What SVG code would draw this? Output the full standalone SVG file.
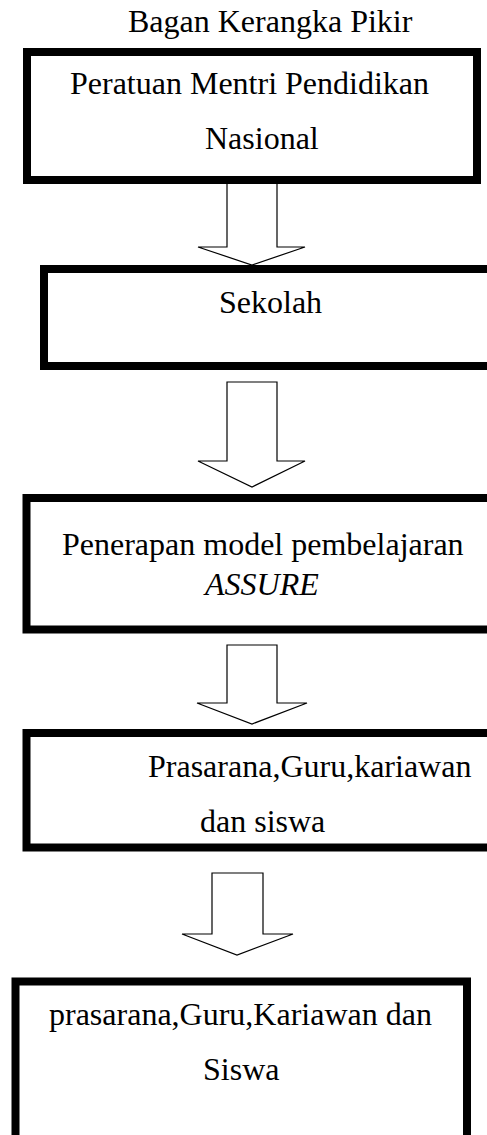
<svg xmlns="http://www.w3.org/2000/svg" width="487" height="1135" viewBox="0 0 487 1135">
<style>
.box{fill:#fff;stroke:#000;stroke-width:8}
.arr{fill:#fff;stroke:#000;stroke-width:1.2;stroke-linejoin:miter}
text{font-family:"Liberation Serif","Times New Roman",serif;font-size:32px;fill:#000}
.it{font-style:italic}
</style>
<rect width="487" height="1135" fill="#fff"/>
<text id="title" x="128" y="32">Bagan Kerangka Pikir</text>
<g id="connectors">
<path class="arr" d="M227,180 V247 H198 L252,265 L305,247 H277 V180 Z"/>
<path class="arr" d="M227,382 V461 H198 L252,487 L305,461 H277 V382 Z"/>
<path class="arr" d="M227,645 V703 H197 L252,724 L307,703 H277 V645 Z"/>
<path class="arr" d="M212,873 V934 H182 L237,955 L293,934 H263 V873 Z"/>
</g>
<g id="node1">
<rect class="box" x="27" y="52" width="450" height="128"/>
<text x="70" y="94">Peratuan Mentri Pendidikan</text>
<text x="205" y="149">Nasional</text>
</g>
<g id="node2">
<rect class="box" x="44" y="269" width="460" height="97"/>
<text x="219" y="313">Sekolah</text>
</g>
<g id="node3">
<rect class="box" x="26.5" y="498" width="470" height="131.5"/>
<text x="62" y="555">Penerapan model pembelajaran</text>
<text class="it" x="205" y="595">ASSURE</text>
</g>
<g id="node4">
<rect class="box" x="26.5" y="733" width="470" height="114.5"/>
<text x="148" y="777">Prasarana,Guru,kariawan</text>
<text x="200" y="832">dan siswa</text>
</g>
<g id="node5">
<rect class="box" x="15.5" y="981.5" width="451.5" height="170"/>
<text x="49" y="1025">prasarana,Guru,Kariawan dan</text>
<text x="203" y="1080">Siswa</text>
</g>
</svg>
